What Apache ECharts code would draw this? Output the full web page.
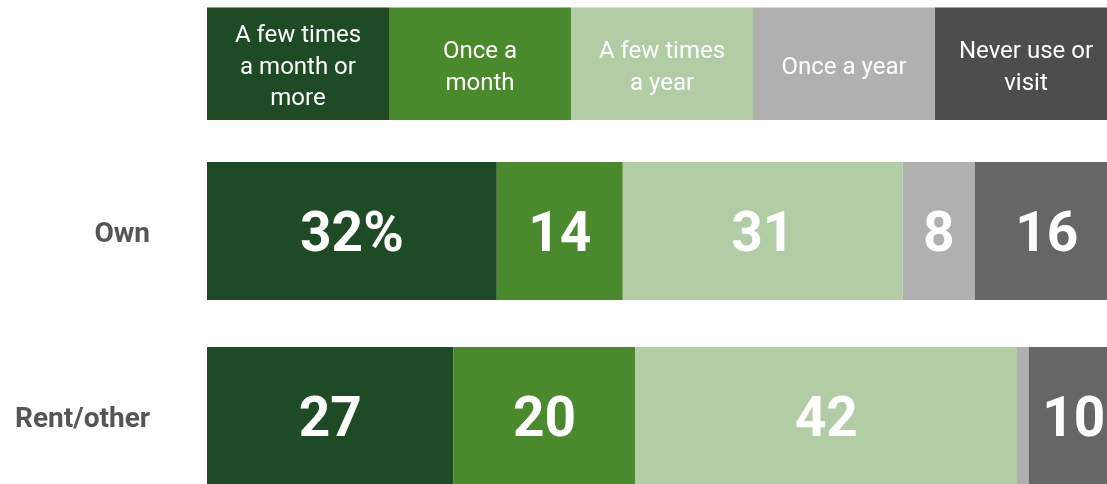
<!DOCTYPE html>
<html lang="en">
<head>
    <meta charset="UTF-8">
    <title>Library use by housing</title>
    <script src="https://cdn.jsdelivr.net/npm/echarts@6/dist/echarts.min.js"></script>
</head>
<style type="text/css">
    body{
        margin:0;
        background:#fff;
    }
    .chart{
        width: 1107px;
        height: 484px;
    }
</style>
<body>
    <div class="chart" id="chart"></div>
</body>
<script type="text/javascript">
// groups (rows)
var categories = ['Own', 'Rent/other'];
// answer buckets, as written in the header boxes
var headerLabels = ['A few times\na month or\nmore', 'Once a\nmonth', 'A few times\na year', 'Once a year', 'Never use or\nvisit'];
// shares, per bucket
var ownValues = [32.2, 14, 31.1, 8, 16];
var rentValues = [27.4, 20.2, 42.4, 1.3, 10];

var barColors = ['#1e4a26', '#4a8a2c', '#b2cca6', '#b0b0b0', '#666666'];
var headerColors = ['#1e4a26', '#4a8a2c', '#b2cca6', '#b0b0b0', '#4d4d4d'];

var numFont = 'Roboto';

var series = [];
// header row: equal boxes carrying the bucket names
headerLabels.forEach(function(name, i) {
    series.push({
        type: 'bar',
        name: name,
        xAxisIndex: 0,
        yAxisIndex: 0,
        stack: 'head',
        barWidth: '100%',
        silent: true,
        data: [1],
        itemStyle: { color: headerColors[i] },
        label: {
            show: true,
            position: 'inside',
            formatter: name,
            color: '#fff',
            fontSize: 24,
            lineHeight: 31.5,
            offset: [0, 4],
            fontFamily: numFont
        }
    });
});
// main bars
headerLabels.forEach(function(name, i) {
    series.push({
        type: 'bar',
        name: name + ' ',
        xAxisIndex: 1,
        yAxisIndex: 1,
        stack: 'main',
        barWidth: 138,
        silent: true,
        data: [ownValues[i], rentValues[i]],
        itemStyle: { color: barColors[i] },
        label: {
            show: true,
            position: 'inside',
            color: '#fff',
            fontSize: 55,
            fontWeight: 'bold',
            fontFamily: numFont,
            offset: [0, 6],
            formatter: function(p) {
                if (p.value < 3) return '';
                var v = Math.round(p.value);
                return (i === 0 && p.dataIndex === 0) ? v + '%' : '' + v;
            }
        }
    });
});

var option = {
    animation: false,
    grid: [
        { left: 207, top: 7.5, width: 910, height: 112.5, outerBoundsMode: 'none' },
        { left: 207, top: 138.5, width: 945, height: 370, outerBoundsMode: 'none' }
    ],
    xAxis: [
        { gridIndex: 0, type: 'value', min: 0, max: 5, show: false },
        { gridIndex: 1, type: 'value', min: 0, max: 105, show: false }
    ],
    yAxis: [
        { gridIndex: 0, type: 'category', data: [''], show: false },
        {
            gridIndex: 1,
            type: 'category',
            data: categories,
            inverse: true,
            axisLine: { show: false },
            axisTick: { show: false },
            axisLabel: {
                margin: 57,
                formatter: function(v) { return '{c|' + v + '}'; },
                rich: {
                    c: {
                        color: '#555555',
                        fontSize: 28,
                        fontWeight: 'bold',
                        fontFamily: numFont,
                        padding: [8, 0, 0, 0]
                    }
                }
            }
        }
    ],
    series: series
};
var myChart = echarts.init(document.getElementById('chart'));
myChart.setOption(option);
</script>
</html>
